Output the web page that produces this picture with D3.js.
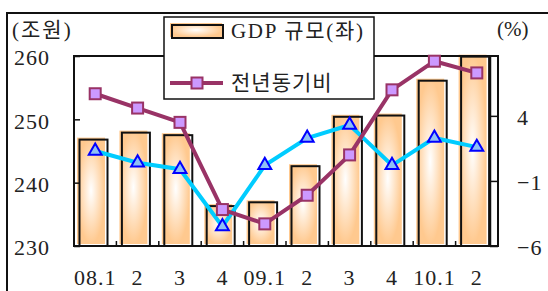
<!DOCTYPE html>
<html>
<head>
<meta charset="UTF-8">
<script src="https://d3js.org/d3.v7.min.js"></script>
<style>
	body { margin: 0; background: white; }
	svg text { font-family: "Liberation Serif", "Noto Sans CJK KR", serif; fill: #222; }
</style>
</head>
<body>
<svg width="548" height="291"></svg>
<script>
const quarters = ["08.1", "2", "3", "4", "09.1", "2", "3", "4", "10.1", "2"];
const gdpSize = [246.8, 247.9, 247.5, 236.3, 236.9, 242.6, 250.4, 250.6, 256.1, 259.9];
const yoyRate = [5.7, 4.6, 3.5, -3.2, -4.3, -2.1, 1.0, 6.0, 8.2, 7.3];
const otherRate = [1.3, 0.4, -0.1, -4.5, 0.2, 2.3, 3.3, 0.2, 2.3, 1.6];
const leftTicks = [230, 240, 250, 260];
const rightTicks = [-6, -1, 4];

const plotLeft = 74, plotRight = 498, plotTop = 56, plotBottom = 246;
const svg = d3.select("svg");

// radial glow like the excel "from center" fill
const grad = svg.append("defs").append("radialGradient").attr("id", "glow");
grad.append("stop").attr("offset", "0%").attr("stop-color", "#ffffff");
grad.append("stop").attr("offset", "100%").attr("stop-color", "#ffc98f");

const x = d3.scaleBand().domain(d3.range(quarters.length)).range([plotLeft, plotRight]);
const yL = d3.scaleLinear().domain([230, 260]).range([plotBottom, plotTop]);
const yR = d3.scaleLinear().domain([-6, 8.6]).range([plotBottom, plotTop]);

// outer frame
svg.append("rect").attr("x", 7).attr("y", 13).attr("width", 600).attr("height", 400)
	.attr("fill", "none").attr("stroke", "#111").attr("stroke-width", 2);

// bars
const bars = svg.append("g");
bars.selectAll(".glow").data(gdpSize).enter().append("rect")
	.attr("x", (d, i) => x(i) + 3)
	.attr("y", d => yL(d) - 2)
	.attr("width", 28)
	.attr("height", d => plotBottom - 2 - (yL(d) - 2))
	.attr("fill", "url(#glow)");
bars.selectAll(".bar").data(gdpSize).enter().append("rect")
	.attr("x", (d, i) => x(i) + 5.5)
	.attr("y", d => yL(d))
	.attr("width", 28)
	.attr("height", d => plotBottom - yL(d))
	.attr("fill", "none")
	.attr("stroke", "#111")
	.attr("stroke-width", 2);

// plot frame
svg.append("rect").attr("x", plotLeft).attr("y", plotTop).attr("width", plotRight - plotLeft).attr("height", plotBottom - plotTop)
	.attr("fill", "none").attr("stroke", "#111").attr("stroke-width", 2);
svg.append("line").attr("x1", plotRight - 7.5).attr("x2", plotRight - 7.5).attr("y1", plotTop).attr("y2", plotBottom)
	.attr("stroke", "#111").attr("stroke-width", 1.5);

// small ticks between categories
svg.selectAll(".xtick").data(d3.range(1, quarters.length)).enter().append("line")
	.attr("x1", i => x(i)).attr("x2", i => x(i))
	.attr("y1", plotBottom).attr("y2", plotBottom - 5)
	.attr("stroke", "#111").attr("stroke-width", 1.5);

// axes
const axL = svg.append("g").attr("transform", "translate(" + plotLeft + ",0)")
	.call(d3.axisLeft(yL).tickValues(leftTicks).tickSizeInner(-6).tickSizeOuter(0).tickPadding(24));
const axR = svg.append("g").attr("transform", "translate(" + plotRight + ",0)")
	.call(d3.axisRight(yR).tickValues(rightTicks).tickSizeInner(-8).tickSizeOuter(0).tickPadding(19).tickFormat(d => d < 0 ? "\u2212" + (-d) : d));
const axB = svg.append("g").attr("transform", "translate(0," + plotBottom + ")")
	.call(d3.axisBottom(x).tickSize(0).tickPadding(23).tickFormat(i => quarters[i]));
[axL, axR, axB].forEach(ax => {
	ax.select(".domain").remove();
	ax.selectAll("line").attr("stroke", "#111").attr("stroke-width", 1.5);
	ax.selectAll("text").attr("font-size", 22).attr("letter-spacing", 1).attr("font-family", null).attr("fill", null);
});
axL.selectAll("text").attr("dy", "0.4em");
axR.selectAll("text").attr("dy", "0.4em");

// cyan series
const cx = (d, i) => x(i) + x.bandwidth() / 2;
svg.append("path").datum(otherRate)
	.attr("d", d3.line().x(cx).y(d => yR(d)))
	.attr("fill", "none").attr("stroke", "#00ccff").attr("stroke-width", 4);
svg.selectAll(".tri").data(otherRate).enter().append("path")
	.attr("d", d3.symbol(d3.symbolTriangle, 72))
	.attr("transform", (d, i) => "translate(" + cx(d, i) + "," + yR(d) + ")")
	.attr("fill", "#8fc0f5").attr("stroke", "#0000ff").attr("stroke-width", 2);

// purple series
svg.append("path").datum(yoyRate)
	.attr("d", d3.line().x(cx).y(d => yR(d)))
	.attr("fill", "none").attr("stroke", "#993366").attr("stroke-width", 4);
svg.selectAll(".sq").data(yoyRate).enter().append("rect")
	.attr("x", (d, i) => cx(d, i) - 5.5)
	.attr("y", d => yR(d) - 5.5)
	.attr("width", 11).attr("height", 11)
	.attr("fill", "#cc99ff").attr("stroke", "#993366").attr("stroke-width", 2);

// unit labels
svg.append("text").attr("x", 12).attr("y", 37).attr("font-size", 21).attr("letter-spacing", 2).text("(조원)");
svg.append("text").attr("x", 497).attr("y", 36).attr("font-size", 21).text("(%)");

// legend
const legend = svg.append("g");
legend.append("rect").attr("x", 164).attr("y", 17).attr("width", 210).attr("height", 82)
	.attr("fill", "white").attr("stroke", "#111").attr("stroke-width", 1.5);
legend.append("rect").attr("x", 170).attr("y", 23).attr("width", 52).attr("height", 14).attr("fill", "url(#glow)");
legend.append("rect").attr("x", 172).attr("y", 25).attr("width", 51).attr("height", 13)
	.attr("fill", "none").attr("stroke", "#111").attr("stroke-width", 2);
legend.append("text").attr("x", 231).attr("y", 38).attr("font-size", 21).attr("letter-spacing", 1.7).text("GDP 규모(좌)");
legend.append("line").attr("x1", 170).attr("x2", 223).attr("y1", 83).attr("y2", 83)
	.attr("stroke", "#993366").attr("stroke-width", 4);
legend.append("rect").attr("x", 191.5).attr("y", 77.5).attr("width", 11).attr("height", 11)
	.attr("fill", "#cc99ff").attr("stroke", "#993366").attr("stroke-width", 2);
legend.append("text").attr("x", 231).attr("y", 90).attr("font-size", 21).attr("letter-spacing", 1).text("전년동기비");
</script>
</body>
</html>
